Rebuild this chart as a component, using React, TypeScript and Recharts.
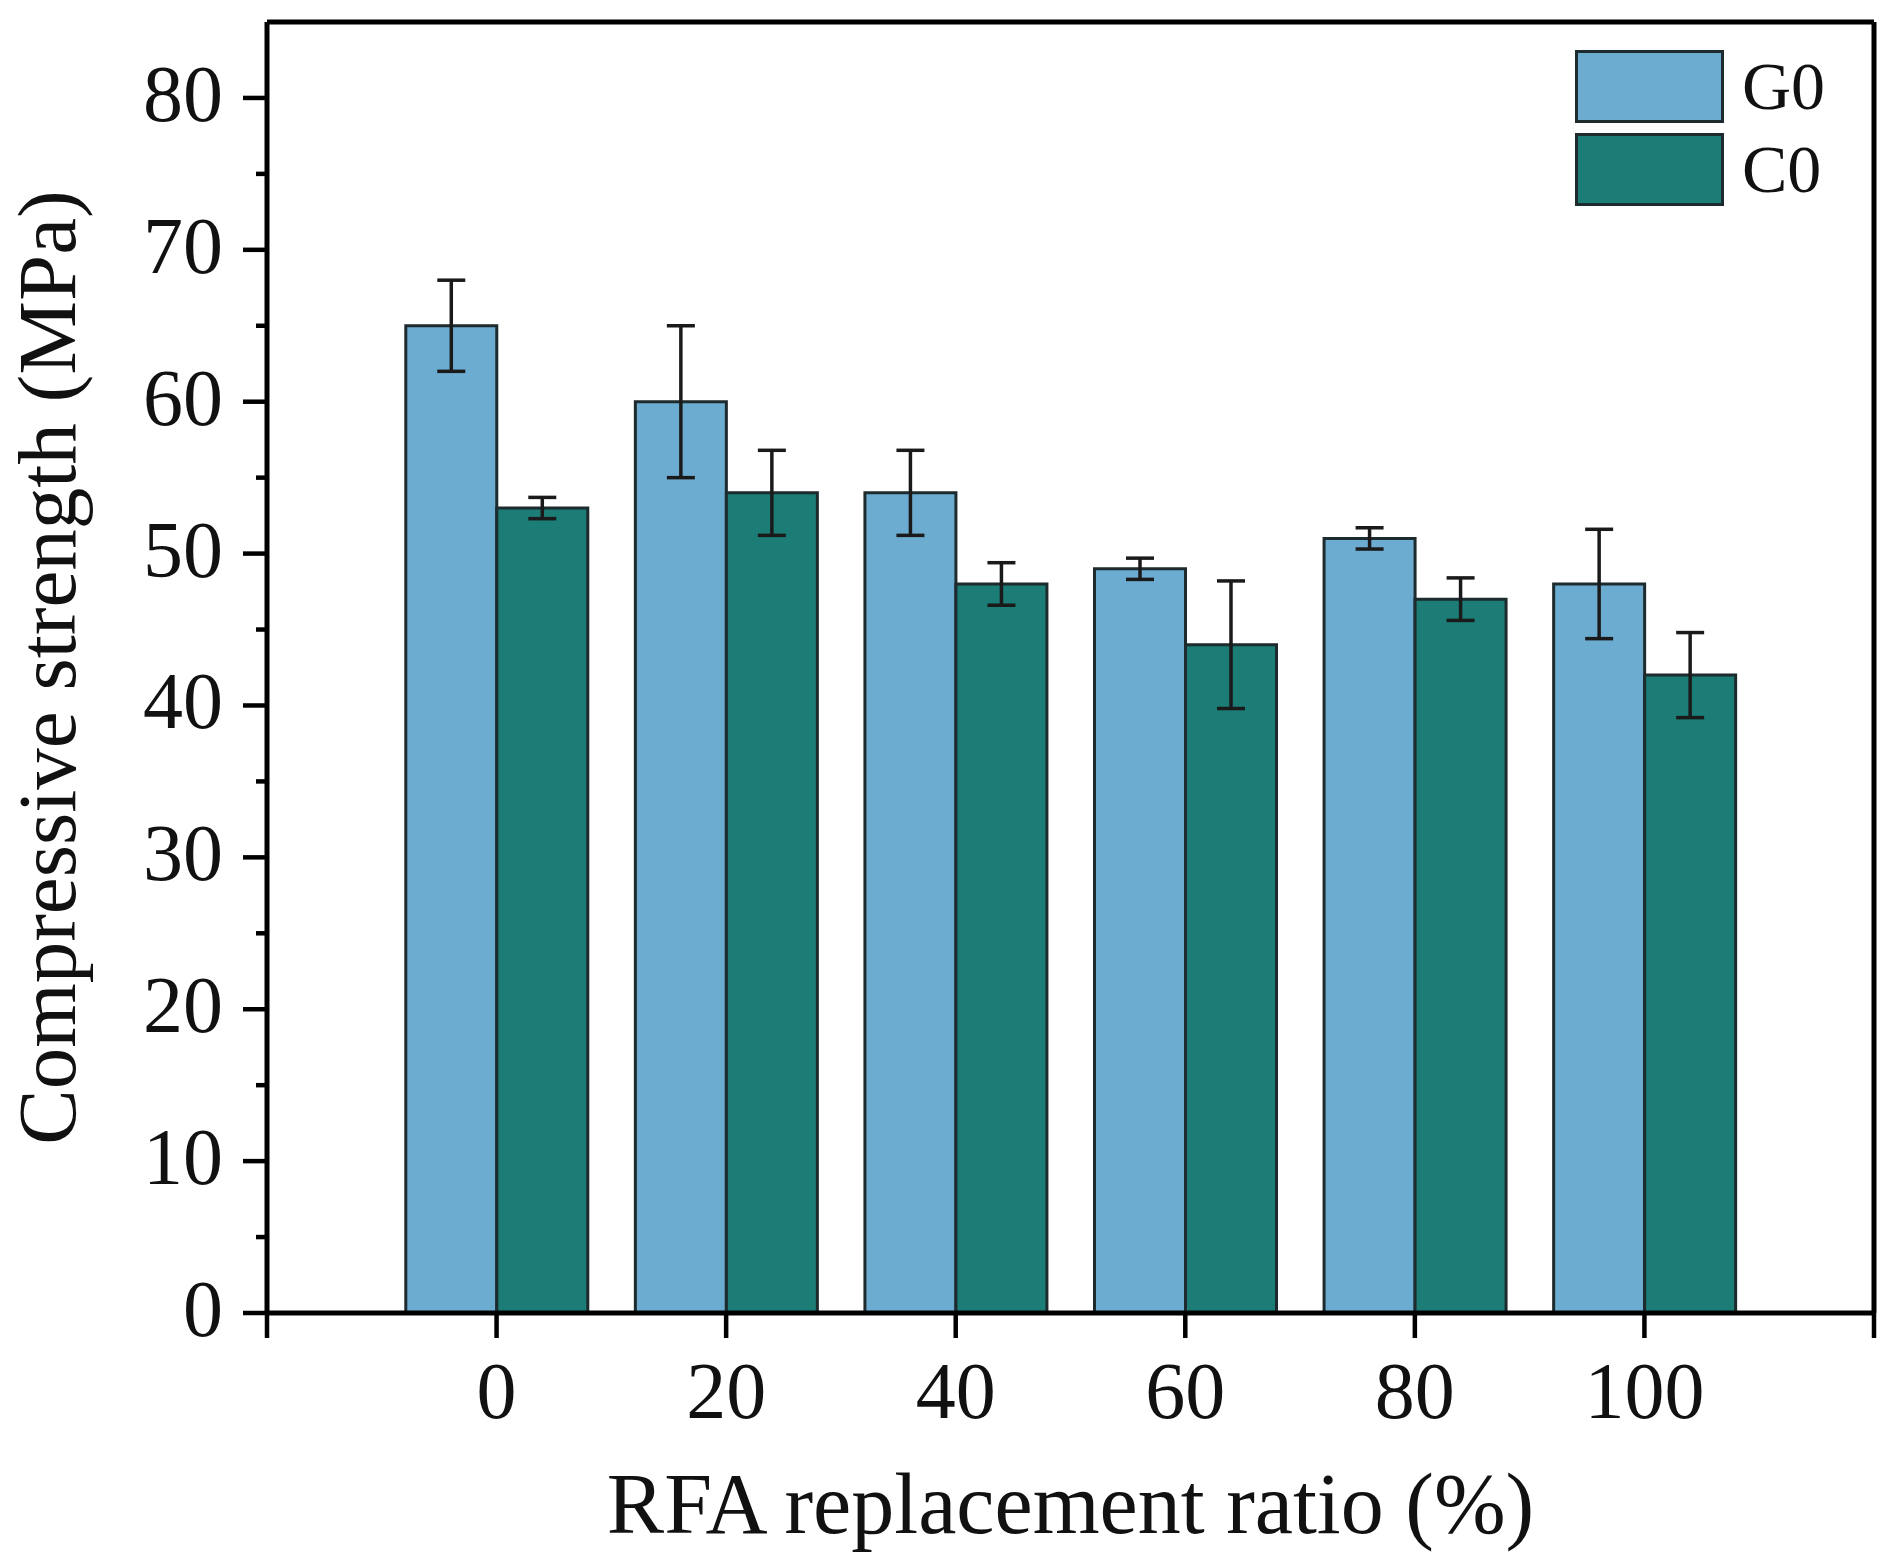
import React from 'react';
import { BarChart, Bar, XAxis, YAxis, ErrorBar, Legend, ReferenceLine } from 'recharts';

const ratios = [0, 20, 40, 60, 80, 100];
const g0Values = [65, 60, 54, 49, 51, 48];
const g0Errors = [3, 5, 2.8, 0.7, 0.7, 3.6];
const c0Values = [53, 54, 48, 44, 47, 42];
const c0Errors = [0.7, 2.8, 1.4, 4.2, 1.4, 2.8];
const xTicks = [-20, 0, 20, 40, 60, 80, 100, 120];
const yTicks = [0, 5, 10, 15, 20, 25, 30, 35, 40, 45, 50, 55, 60, 65, 70, 75, 80];

const data = ratios.map((r, i) => ({
  x: r,
  G0: g0Values[i],
  gErr: g0Errors[i],
  C0: c0Values[i],
  cErr: c0Errors[i],
}));

const FONT = '"Liberation Serif", "Times New Roman", serif';
const BLUE = '#6CACD0';
const TEAL = '#1B7D76';
const EDGE = '#1d2a2e';
const Y_TICK_SIZE = 24;
const Y_TICK_MARGIN = 20;

const YTick = (props: any) => {
  const { x, y, payload } = props;
  const v = payload.value;
  const major = v % 10 === 0;
  const axisX = x + Y_TICK_MARGIN + Y_TICK_SIZE;
  const len = major ? Y_TICK_SIZE : 11;
  return (
    <g>
      <line x1={axisX - len} x2={axisX} y1={y} y2={y} stroke="#000" strokeWidth={4.5} />
      {major && (
        <text x={x} y={y} dy={23} textAnchor="end" fontSize={80} fontFamily={FONT} fill="#111">
          {v}
        </text>
      )}
    </g>
  );
};

const XTick = (props: any) => {
  const { x, y, payload } = props;
  const v = payload.value;
  if (v < 0 || v > 100) return null;
  return (
    <text x={x} y={y} dy={57} textAnchor="middle" fontSize={80} fontFamily={FONT} fill="#111">
      {v}
    </text>
  );
};

const YTitle = (props: any) => {
  const vb = props.viewBox;
  const cx = vb.x + 75;
  const cy = vb.y + vb.height / 2;
  return (
    <text x={cx} y={cy} transform={`rotate(-90, ${cx}, ${cy})`} textAnchor="middle" fontSize={83} fontFamily={FONT} fill="#111">
      Compressive strength (MPa)
    </text>
  );
};

const XTitle = (props: any) => {
  const vb = props.viewBox;
  return (
    <text x={vb.x + vb.width / 2} y={vb.y + 220} textAnchor="middle" fontSize={86} fontFamily={FONT} fill="#111">
      RFA replacement ratio (%)
    </text>
  );
};

const LegendContent = () => {
  const items = [
    { name: 'G0', color: BLUE },
    { name: 'C0', color: TEAL },
  ];
  return (
    <div style={{ display: 'flex', flexDirection: 'column', gap: 10 }}>
      {items.map((it) => (
        <div key={it.name} style={{ display: 'flex', alignItems: 'center' }}>
          <div
            style={{
              width: 143,
              height: 67,
              background: it.color,
              border: `3px solid ${EDGE}`,
            }}
          />
          <span style={{ marginLeft: 18, fontSize: 68, fontFamily: FONT, color: '#111', lineHeight: '73px' }}>
            {it.name}
          </span>
        </div>
      ))}
    </div>
  );
};

export default function App() {
  return (
    <div style={{ width: 1895, height: 1563, background: '#fff' }}>
      <style>{`body{margin:0;background:#fff;}`}</style>
      <BarChart
        width={1895}
        height={1563}
        data={data}
        margin={{ top: 22, right: 21, bottom: 0, left: 0 }}
        barGap={0}
      >
        <XAxis
          dataKey="x"
          type="number"
          domain={[-20, 120]}
          ticks={xTicks}
          interval={0}
          height={250}
          tickSize={25}
          tickMargin={23}
          tick={<XTick />}
          axisLine={{ stroke: '#000', strokeWidth: 5 }}
          tickLine={{ stroke: '#000', strokeWidth: 4.5 }}
          label={{ content: <XTitle /> }}
        />
        <YAxis
          type="number"
          domain={[0, 85]}
          ticks={yTicks}
          interval={0}
          width={267}
          tickSize={Y_TICK_SIZE}
          tickMargin={Y_TICK_MARGIN}
          tick={<YTick />}
          tickLine={false}
          axisLine={{ stroke: '#000', strokeWidth: 5 }}
          label={{ content: <YTitle /> }}
        />
        <ReferenceLine y={85} stroke="#000" strokeWidth={5} />
        <ReferenceLine x={120} stroke="#000" strokeWidth={5} />
        <Bar dataKey="G0" barSize={91} fill={BLUE} stroke={EDGE} strokeWidth={3} isAnimationActive={false}>
          <ErrorBar dataKey="gErr" width={14} strokeWidth={3.5} stroke="#1a1a1a" direction="y" />
        </Bar>
        <Bar dataKey="C0" barSize={91} fill={TEAL} stroke={EDGE} strokeWidth={3} isAnimationActive={false}>
          <ErrorBar dataKey="cErr" width={14} strokeWidth={3.5} stroke="#1a1a1a" direction="y" />
        </Bar>
        <Legend
          layout="vertical"
          align="center"
          verticalAlign="middle"
          wrapperStyle={{ left: 1575, top: 50, width: 300, height: 160 }}
          content={<LegendContent />}
        />
      </BarChart>
    </div>
  );
}
